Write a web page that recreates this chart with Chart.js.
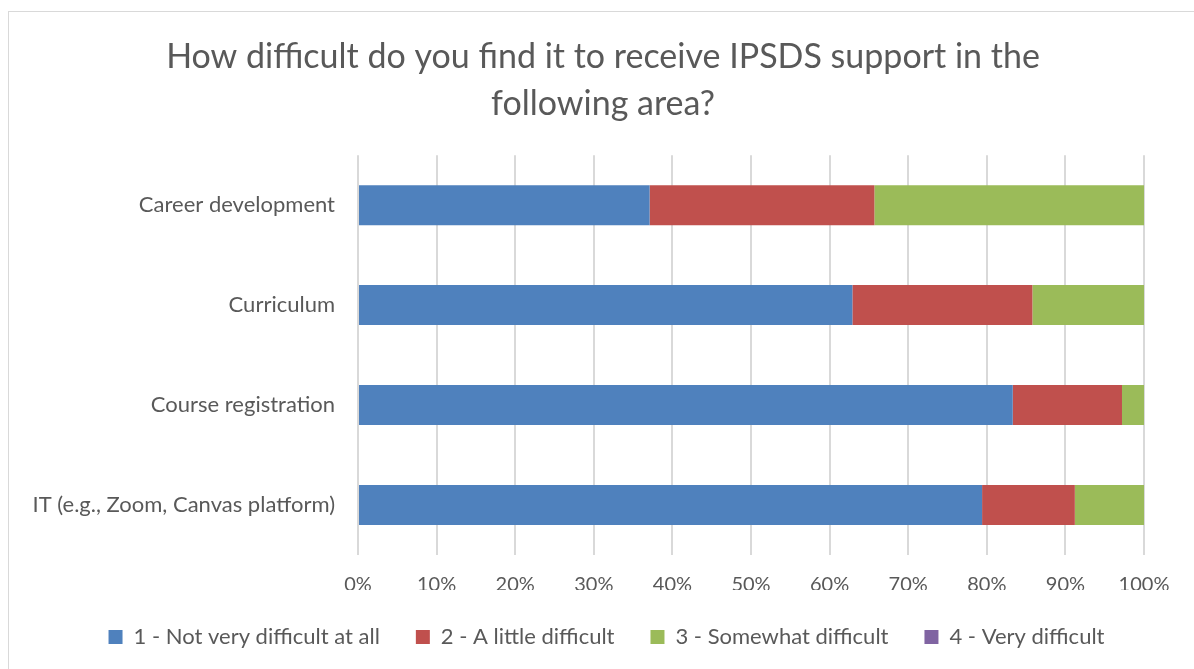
<!DOCTYPE html>
<html>
<head>
<meta charset="utf-8">
<script src="https://cdn.jsdelivr.net/npm/chart.js@4/dist/chart.umd.min.js"></script>
<style>
  html, body { margin: 0; padding: 0; background: #fff; overflow: hidden; }
  #frame { position: absolute; left: 8px; top: 11px; width: 1200px; height: 700px; border: 1px solid #d9d9d9; }
  #wrap { position: absolute; left: 0; top: 0; width: 1194px; height: 669px; }
</style>
</head>
<body>
<div id="frame"></div>
<div id="wrap"><canvas id="grafico" width="1194" height="669"></canvas></div>
<script>
const categorias = ["Career development", "Curriculum", "Course registration", "IT (e.g., Zoom, Canvas platform)"];
const nada = [37.1, 62.9, 83.3, 79.4];
const poco = [28.6, 22.9, 13.9, 11.8];
const algo = [34.3, 14.2, 2.8, 8.8];
const muy = [0, 0, 0, 0];
const etiquetasX = ["0%", "10%", "20%", "30%", "40%", "50%", "60%", "70%", "80%", "90%", "100%"];

const gris = "#595959";
const fuente = "Lato, 'Open Sans', sans-serif";

// corre el título y la leyenda para centrarlos como en Excel
const centrado = {
    id: 'centrado',
    afterLayout(chart) {
        const t = chart.titleBlock;
        t.left = 62;
        t.width = t.right - t.left;
        const l = chart.legend;
        l.left = 69;
        l.width = l.right - l.left;
    }
};

const ctx = document.getElementById("grafico").getContext("2d");
new Chart(ctx, {
    type: 'bar',
    data: {
        labels: categorias,
        datasets: [
            { label: "1 - Not very difficult at all", data: nada, backgroundColor: "#4F81BD" },
            { label: "2 - A little difficult", data: poco, backgroundColor: "#C0504D" },
            { label: "3 - Somewhat difficult", data: algo, backgroundColor: "#9BBB59" },
            { label: "4 - Very difficult", data: muy, backgroundColor: "#8064A2" }
        ]
    },
    plugins: [centrado],
    options: {
        indexAxis: 'y',
        responsive: false,
        animation: false,
        layout: { padding: { top: 11, right: 50, bottom: 11, left: 0 } },
        datasets: { bar: { barPercentage: 0.4, categoryPercentage: 1.0 } },
        plugins: {
            title: {
                display: true,
                text: ["How difficult do you find it to receive IPSDS support in the", "following area?"],
                color: gris,
                font: { family: fuente, size: 34, weight: 'normal', lineHeight: 1.37 },
                padding: { top: 23, bottom: 28 }
            },
            legend: {
                position: 'bottom',
                labels: {
                    color: gris,
                    boxWidth: 14,
                    boxHeight: 14,
                    padding: 36,
                    font: { family: fuente, size: 22 }
                }
            },
            tooltip: { enabled: false }
        },
        scales: {
            x: {
                stacked: true,
                min: 0,
                max: 100,
                border: { display: false },
                grid: { color: "#d9d9d9", lineWidth: 2, drawTicks: false },
                ticks: {
                    stepSize: 10,
                    color: gris,
                    padding: 18,
                    font: { family: fuente, size: 20 },
                    callback: (v, i) => etiquetasX[i]
                },
                afterFit: (scale) => { scale.height = 35; }
            },
            y: {
                stacked: true,
                border: { display: false },
                grid: { display: false, drawTicks: false },
                ticks: {
                    color: gris,
                    padding: 23,
                    font: { family: fuente, size: 22 }
                },
                afterFit: (scale) => { scale.width = 358; }
            }
        }
    }
});
</script>
</body>
</html>
